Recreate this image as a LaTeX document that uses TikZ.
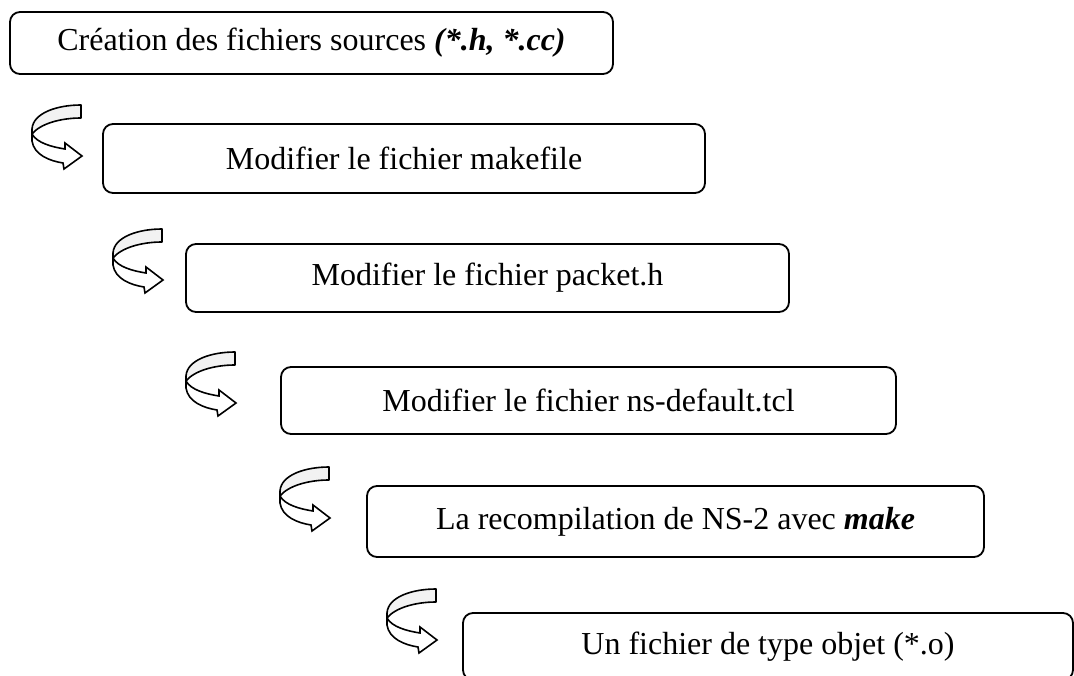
\documentclass[tikz,border=0pt]{standalone}
\usepackage{fontspec}
\setmainfont{Liberation Serif}
\tikzset{
  stepbox/.style={draw, line width=1.8pt, rounded corners=10pt, fill=white,
    inner sep=0pt, font=\fontsize{32}{38}\selectfont},
  bandgray/.style={draw, line width=1.6pt, fill=gray!10, line join=round},
  bandwhite/.style={draw, line width=1.6pt, fill=white, line join=miter},
  turnarrow/.pic={
    \path[bandwhite] (0,24) -- (0,36) .. controls (2,50) and (18,56) .. (31,58)
      -- (32,64) -- (50,51) -- (33,38) -- (33,44)
      .. controls (20,42) and (5,38) .. (0,29) -- cycle;
    \path[bandgray] (49,0) .. controls (25,0) and (1,8) .. (0,24) -- (0,29)
      .. controls (8,19) and (28,13) .. (49,13) -- cycle;
  }
}
\begin{document}
\begin{tikzpicture}[x=1pt, y=-1pt]
\useasboundingbox (0,0) rectangle (1074,676);
\clip (0,0) rectangle (1074,676);
\node[stepbox, minimum width=603pt, minimum height=62pt] (b1) at (311.5,43)
  {Création des fichiers sources \textbf{\textit{(*.h, *.cc)}}};
\node[stepbox, minimum width=602pt, minimum height=69pt] (b2) at (404,158.5)
  {Modifier le fichier makefile};
\node[stepbox, minimum width=603pt, minimum height=68pt] (b3) at (487.5,278)
  {Modifier le fichier packet.h};
\node[stepbox, minimum width=615pt, minimum height=67pt] (b4) at (588.5,400.5)
  {Modifier le fichier ns-default.tcl};
\node[stepbox, minimum width=617pt, minimum height=71pt] (b5) at (675.5,521.5)
  {La recompilation de NS-2 avec \textbf{\textit{make}}};
\node[stepbox, minimum width=610pt, minimum height=67pt] (b6) at (768,646.5)
  {Un fichier de type objet (*.o)};
\coordinate (a1) at (32,105);
\coordinate (a2) at (113,229);
\coordinate (a3) at (186,352);
\coordinate (a4) at (280,467);
\coordinate (a5) at (387,589);
\pic at (a1) {turnarrow};
\pic at (a2) {turnarrow};
\pic at (a3) {turnarrow};
\pic at (a4) {turnarrow};
\pic at (a5) {turnarrow};
\end{tikzpicture}
\end{document}
